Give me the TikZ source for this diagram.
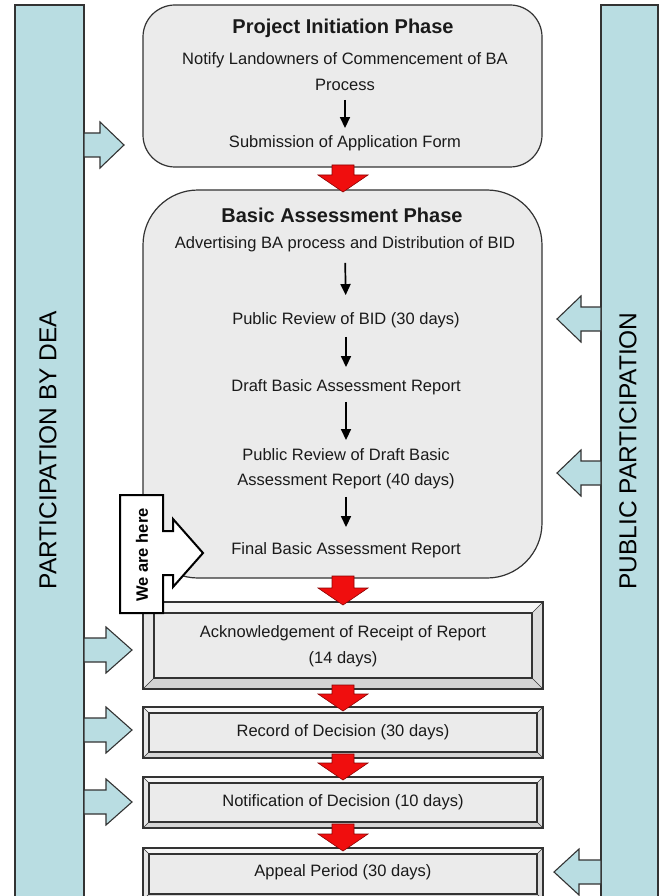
\documentclass[tikz,border=0pt]{standalone}
\usepackage{fontspec}
\setmainfont{Liberation Sans}
\usetikzlibrary{calc,arrows.meta}
\definecolor{barblue}{HTML}{B9DDE2}
\definecolor{boxgray}{HTML}{EBEBEB}
\definecolor{edgecol}{HTML}{333333}
\definecolor{arrred}{HTML}{F00E0E}
\definecolor{bevtop}{HTML}{F6F6F6}
\definecolor{bevleft}{HTML}{E6E6E6}
\definecolor{bevright}{HTML}{DCDCDC}
\definecolor{bevbot}{HTML}{D4D4D4}
\definecolor{inktext}{HTML}{1A1A1A}

% bevelled frame around an (empty) named node; #2 = bevel width
\newcommand\bevelframe[2]{%
  \coordinate (bvNW) at (#1.north west);
  \coordinate (bvNE) at (#1.north east);
  \coordinate (bvSW) at (#1.south west);
  \coordinate (bvSE) at (#1.south east);
  \coordinate (bvnw) at ($(bvNW)+(#2,#2)$);
  \coordinate (bvne) at ($(bvNE)+(-#2,#2)$);
  \coordinate (bvsw) at ($(bvSW)+(#2,-#2)$);
  \coordinate (bvse) at ($(bvSE)+(-#2,-#2)$);
  \fill[bevtop] (bvNW) -- (bvNE) -- (bvne) -- (bvnw) -- cycle;
  \fill[bevleft] (bvNW) -- (bvnw) -- (bvsw) -- (bvSW) -- cycle;
  \fill[bevright] (bvNE) -- (bvSE) -- (bvse) -- (bvne) -- cycle;
  \fill[bevbot] (bvSW) -- (bvsw) -- (bvse) -- (bvSE) -- cycle;
  \fill[boxgray] (bvnw) rectangle (bvse);
  \draw[frameline] (bvNW) rectangle (bvSE);
  \draw[frameline] (bvnw) rectangle (bvse);
  \draw[frameline, line width=0.6pt] (bvNW) -- (bvnw) (bvNE) -- (bvne) (bvSW) -- (bvsw) (bvSE) -- (bvse);
}
% red block arrow pointing down: x, y top, y tip
\newcommand\redblock[3]{%
  \filldraw[redblk] (#1-11,#2) -- (#1+11,#2) -- (#1+11,#3-17) -- (#1+25,#3-17)
    -- (#1,#3) -- (#1-25,#3-17) -- (#1-11,#3-17) -- cycle;}
% blue block arrow pointing right: tip x, tip y, total length, head length
\newcommand\bluer[4]{%
  \filldraw[blueblk] (#1-#3,#2-12) -- (#1-#4,#2-12) -- (#1-#4,#2-23) -- (#1,#2)
    -- (#1-#4,#2+23) -- (#1-#4,#2+12) -- (#1-#3,#2+12) -- cycle;}
% blue block arrow pointing left
\newcommand\bluel[4]{%
  \filldraw[blueblk] (#1+#3,#2-12) -- (#1+#4,#2-12) -- (#1+#4,#2-23) -- (#1,#2)
    -- (#1+#4,#2+23) -- (#1+#4,#2+12) -- (#1+#3,#2+12) -- cycle;}

\begin{document}
\begin{tikzpicture}[x=1pt,y=-1pt,
  phase/.style={draw=edgecol, line width=1.2pt, fill=boxgray, inner sep=0pt, outer sep=0pt},
  stage/.style={inner sep=0pt, outer sep=0pt},
  frameline/.style={draw=edgecol, line width=1.1pt},
  sidebar/.style={draw=edgecol, line width=1.2pt, fill=barblue, inner sep=0pt, outer sep=0pt},
  bartext/.style={font=\fontsize{24.5}{28}\selectfont, text=black},
  txt/.style={font=\fontsize{16.5}{19}\selectfont, text=inktext, inner sep=0pt, text height=12pt, text depth=3.5pt},
  ttl/.style={font=\bfseries\fontsize{20}{24}\selectfont, text=inktext, inner sep=0pt},
  flow/.style={draw=black, line width=1.7pt, -{Triangle[length=11pt,width=10pt]}},
  redblk/.style={fill=arrred, draw=red!55!black, line width=0.6pt},
  blueblk/.style={fill=barblue, draw=edgecol, line width=1.1pt, line join=miter},
  herebox/.style={fill=white, draw=black, line width=2pt, line join=miter},
  heretext/.style={font=\bfseries\fontsize{16.5}{19}\selectfont, text=black, inner sep=0pt}
]
\clip (0,0) rectangle (661,896);
\fill[white] (0,0) rectangle (661,896);

% side bars
\node[sidebar, minimum width=69pt, minimum height=898pt] (dea) at (49.5,454) {};
\node[bartext, rotate=90] (deatext) at (48,450) {PARTICIPATION BY DEA};
\node[sidebar, minimum width=57pt, minimum height=898pt] (pp) at (629.5,454) {};
\node[bartext, rotate=90] (pptext) at (628,451) {PUBLIC PARTICIPATION};

% phase boxes
\node[phase, rounded corners=32pt, minimum width=399pt, minimum height=162pt] (pi) at (342.5,86) {};
\node[phase, rounded corners=55pt, minimum width=399pt, minimum height=388pt] (ba) at (342.5,384) {};

% bevelled stage boxes
\node[stage, minimum width=400pt, minimum height=87pt] (ack) at (343,645.5) {};
\bevelframe{ack}{11}
\node[stage, minimum width=400pt, minimum height=51pt] (rec) at (343,732.5) {};
\bevelframe{rec}{6}
\node[stage, minimum width=400pt, minimum height=51pt] (notif) at (343,802.5) {};
\bevelframe{notif}{6}
\node[stage, minimum width=400pt, minimum height=52pt] (appeal) at (343,874) {};
\bevelframe{appeal}{6}

% texts: project initiation
\node[ttl] (pititle) at (343,28) {Project Initiation Phase};
\node[txt] (notify1) at (345,60) {Notify Landowners of Commencement of BA};
\node[txt] (notify2) at (345,86) {Process};
\node[txt] (submit) at (345,143) {Submission of Application  Form};
\draw[flow, shorten <=6pt, shorten >=7pt] (notify2.south) -- (submit.north);

% texts: basic assessment
\node[ttl] (batitle) at (342,215) {Basic Assessment Phase};
\node[txt] (advert) at (345,244) {Advertising BA process and Distribution of BID};
\node[txt] (prbid) at (346,320) {Public Review of BID  (30 days)};
\node[txt] (draft) at (346,387) {Draft Basic Assessment  Report};
\node[txt] (prdraft1) at (346,456) {Public Review of Draft Basic};
\node[txt] (prdraft2) at (346,481) {Assessment Report (40 days)};
\node[txt] (final) at (346,550) {Final Basic Assessment  Report};
\draw[flow, shorten <=11pt, shorten >=17pt] (advert.south) -- (prbid.north);
\draw[flow, shorten <=9pt, shorten >=12pt] (prbid.south) -- (draft.north);
\draw[flow, shorten <=7pt, shorten >=8pt] (draft.south) -- (prdraft1.north);
\draw[flow, shorten <=8pt, shorten >=15pt] (prdraft2.south) -- (final.north);

% stage texts
\node[txt] (ack1) at (343,633) {Acknowledgement of Receipt of Report};
\node[txt] (ack2) at (343,659) {(14 days)};
\node[txt] (rectext) at (343,732) {Record of Decision  (30 days)};
\node[txt] (notiftext) at (343,802) {Notification of Decision  (10 days)};
\node[txt] (appealtext) at (343,872) {Appeal Period (30 days)};

% red flow arrows between phases
\redblock{343}{165}{192}
\redblock{343}{576}{605}
\redblock{343}{685}{711}
\redblock{343}{754}{780}
\redblock{343}{824}{851}

% blue arrows from DEA bar
\bluer{124}{145}{40}{24}
\bluer{132}{650}{48}{26}
\bluer{132}{730}{48}{26}
\bluer{132}{802}{48}{26}

% blue arrows from public participation bar
\bluel{557}{319}{44}{24}
\bluel{557}{473}{44}{24}
\bluel{554}{872}{47}{25}

% "We are here" callout
\filldraw[herebox] (120,495) -- (163,495) -- (163,531) -- (173,531) -- (173,519) -- (203,553)
  -- (173,587) -- (173,575) -- (163,575) -- (163,613) -- (120,613) -- cycle;
\node[heretext, rotate=90] (here) at (142,555) {We are here};
\end{tikzpicture}
\end{document}
